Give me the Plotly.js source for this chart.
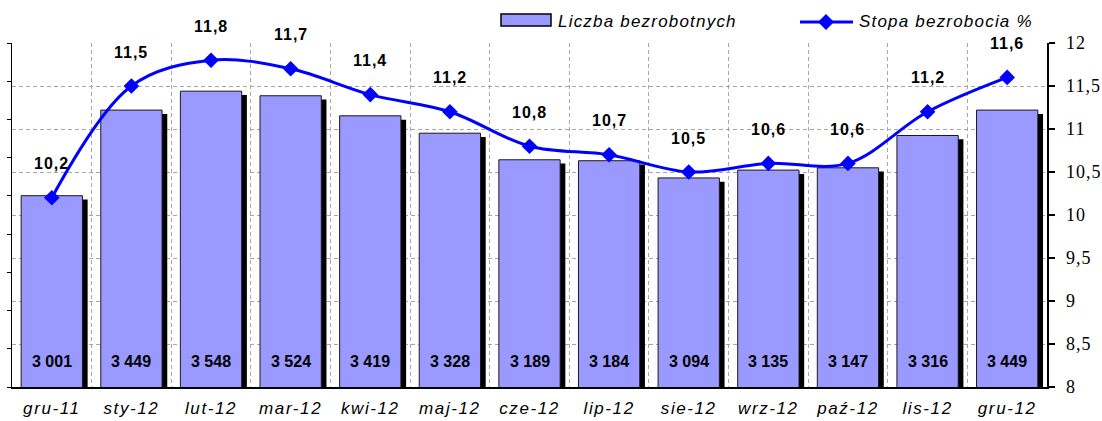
<!DOCTYPE html>
<html>
<head>
<meta charset="utf-8">
<script src="https://cdn.plot.ly/plotly-3.0.1.min.js"></script>
<style>
html, body { margin: 0; padding: 0; background: #ffffff; }
#chart { width: 1102px; height: 421px; }
.xtick text { letter-spacing: 1.6px; }
.y2tick text { letter-spacing: 1px; }
</style>
</head>
<body>
<div id="chart"></div>
<script>
// ---- Data ----
const months = ["gru-11", "sty-12", "lut-12", "mar-12", "kwi-12", "maj-12", "cze-12", "lip-12", "sie-12", "wrz-12", "paź-12", "lis-12", "gru-12"];
const unemployed = [3001, 3449, 3548, 3524, 3419, 3328, 3189, 3184, 3094, 3135, 3147, 3316, 3449];
const rate = [10.2, 11.5, 11.8, 11.7, 11.4, 11.2, 10.8, 10.7, 10.5, 10.6, 10.6, 11.2, 11.6];
const seriesNames = ["Liczba bezrobotnych", "Stopa bezrobocia %"];

// ---- Style ----
const BAR_COLOR = "#9999ff";
const LINE_COLOR = "#0000ff";
const BAR_W = 0.77;
const SHADOW_DX = 0.065;   // category units
const SHADOW_DROP = 20;    // left-axis units (~4 px)
const GRID = "#a6a6a6";
const SANS = "'Liberation Sans', Arial, sans-serif";
const SERIF = "'Liberation Serif', 'Times New Roman', serif";

const shadowTrace = {
  type: "bar", x: months, y: unemployed.map(v => v - SHADOW_DROP),
  width: BAR_W, offset: -BAR_W / 2 + SHADOW_DX,
  marker: { color: "#000000", line: { width: 0 } },
  hoverinfo: "skip", showlegend: false, yaxis: "y"
};
const barTrace = {
  type: "bar", name: seriesNames[0], x: months, y: unemployed,
  width: BAR_W, offset: -BAR_W / 2,
  marker: { color: BAR_COLOR, line: { color: "#1a1a1a", width: 1 } },
  showlegend: false, yaxis: "y"
};
const lineTrace = {
  type: "scatter", mode: "lines+markers", name: seriesNames[1], x: months, y: rate,
  line: { color: LINE_COLOR, width: 3, shape: "spline", smoothing: 1 },
  marker: { symbol: "diamond", size: 12, color: LINE_COLOR },
  showlegend: false, yaxis: "y2", cliponaxis: false
};

function spaced(n) {
  return String(n).replace(/\B(?=(\d{3})+(?!\d))/g, " ");
}
function comma(v) { return String(v).replace(".", ","); }
function ls(t, px) { return `<span style="letter-spacing:${px}px">${t}</span>`; }

const annotations = [];
months.forEach((m, i) => {
  annotations.push({
    x: m, y: rate[i], xref: "x", yref: "y2", text: ls(comma(rate[i]), 1),
    showarrow: false, yshift: 34, font: { family: SANS, size: 16, color: "#000", weight: "bold" }
  });
  annotations.push({
    x: m, y: 0, xref: "x", yref: "paper", text: spaced(unemployed[i]),
    showarrow: false, yanchor: "middle", yshift: 26,
    font: { family: SANS, size: 16, color: "#000", weight: "bold" }
  });
});

// Custom legend (paper coords; plot area 12..1047 x, 43..387 y)
const PX = x => (x - 12) / 1035;
const PY = y => (387 - y) / 344;
annotations.push({
  x: PX(556), y: PY(21), xref: "paper", yref: "paper", xanchor: "left", yanchor: "middle",
  text: ls(seriesNames[0], 1.2), showarrow: false, font: { family: SANS, size: 17, color: "#000", style: "italic" }
});
annotations.push({
  x: PX(857), y: PY(21), xref: "paper", yref: "paper", xanchor: "left", yanchor: "middle",
  text: ls(seriesNames[1], 1.2), showarrow: false, font: { family: SANS, size: 17, color: "#000", style: "italic" }
});
const dcx = PX(826), dcy = PY(22), dx = 8 / 1035, dy = 8 / 344;
const shapes = [
  { type: "rect", xref: "paper", yref: "paper", x0: PX(501), x1: PX(551), y0: PY(26), y1: PY(14),
    fillcolor: BAR_COLOR, line: { color: "#000", width: 1.5 } },
  { type: "line", xref: "paper", yref: "paper", x0: PX(800), x1: PX(853), y0: PY(22), y1: PY(22),
    line: { color: LINE_COLOR, width: 3 } },
  { type: "path", xref: "paper", yref: "paper",
    path: `M ${dcx - dx} ${dcy} L ${dcx} ${dcy + dy} L ${dcx + dx} ${dcy} L ${dcx} ${dcy - dy} Z`,
    fillcolor: LINE_COLOR, line: { color: LINE_COLOR, width: 0 } }
];

const layout = {
  width: 1102, height: 421,
  margin: { l: 12, r: 55, t: 43, b: 34, pad: 0 },
  paper_bgcolor: "#ffffff", plot_bgcolor: "#ffffff",
  separators: ", ",
  barmode: "overlay",
  showlegend: false,
  font: { family: SANS, color: "#000" },
  xaxis: {
    type: "category", tickson: "boundaries",
    showline: true, linecolor: "#000", linewidth: 1.5,
    showgrid: true, gridcolor: GRID, griddash: "4px,3px", gridwidth: 1,
    ticks: "", ticklabelstandoff: 5,
    tickfont: { family: SANS, size: 17, color: "#000", style: "italic" },
    zeroline: false, range: [-0.5, 12.5]
  },
  yaxis: {
    range: [2000, 3800], showgrid: false, zeroline: false,
    showline: true, linecolor: "#000", linewidth: 1.5,
    ticks: "outside", ticklen: 4, tickcolor: "#000", dtick: 200,
    showticklabels: false
  },
  yaxis2: {
    overlaying: "y", side: "right", range: [8, 12], dtick: 0.5,
    showline: true, linecolor: "#000", linewidth: 1.5,
    ticks: "outside", ticklen: 6, tickcolor: "#000", tickwidth: 1.5,
    showgrid: true, gridcolor: GRID, griddash: "4px,3px", gridwidth: 1,
    zeroline: false, ticklabelstandoff: 8,
    tickfont: { family: SERIF, size: 18, color: "#000" }
  },
  annotations: annotations,
  shapes: shapes
};

Plotly.newPlot("chart", [shadowTrace, barTrace, lineTrace], layout, { displayModeBar: false, staticPlot: true });
</script>
</body>
</html>
